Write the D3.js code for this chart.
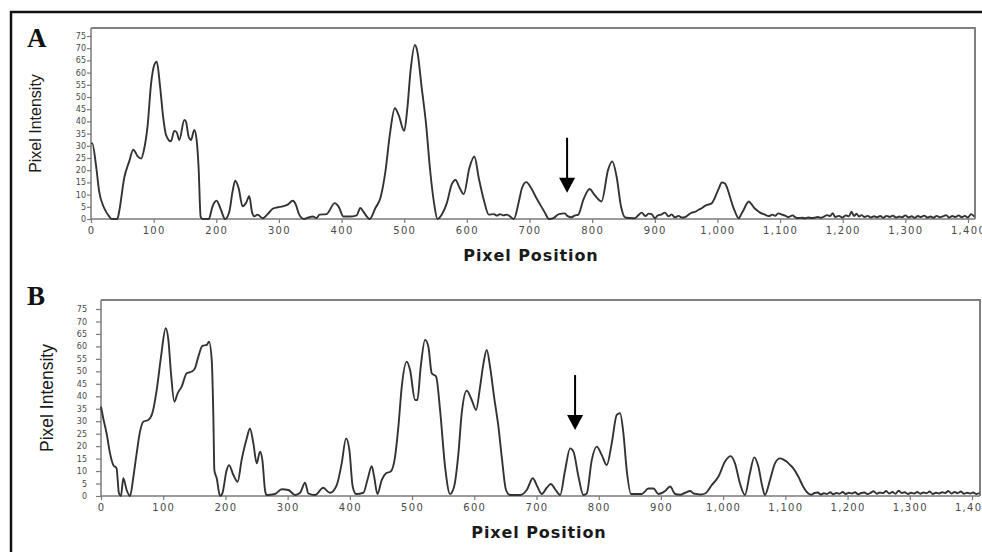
<!DOCTYPE html>
<html>
<head>
<meta charset="utf-8">
<script src="https://cdn.jsdelivr.net/npm/d3@7"></script>
<style>
  body { margin: 0; background: #fff; }
  svg { display: block; }
</style>
</head>
<body>
<svg id="chart" width="982" height="552"></svg>
<script>
// pixel position / intensity pairs
const profileA = [
  [0,31],[2,31],[8,22],[13,11.3],[21,4.5],[29,1.1],[33,0],[42,0],[45,3.1],[53,16.8],[61,23.6],
  [67.5,28.4],[74.5,25.7],[80,24.8],[85,28.9],[90.5,38.6],[95.7,55],[101,63.1],[105,64.5],[110,55],
  [115.4,41.3],[119.7,34.5],[127.6,31.8],[133,36.1],[136.7,35.6],[141,32.4],[148.9,40.6],[151.6,39.9],
  [155.8,33.8],[159.6,32.4],[164.9,36.5],[168.6,32.4],[171.8,20.9],[175,1],[178,0],[188,0],[194,5.2],
  [200.5,7.5],[207.4,3.8],[214,0],[220.7,2.9],[226,11.3],[230.3,15.7],[235.6,12.7],[242,5.2],[247.3,6.5],
  [252.7,9.3],[257,2.9],[260.6,1.1],[266,1.8],[274,0.3],[282,2],[290,4.2],[298,4.8],[306,5.2],[314,5.9],
  [322,7.5],[327,5.9],[332,2],[340,0],[347,0.6],[354,1],[360,0.4],[365,1.8],[376,2],[389,6.5],[395,5.2],
  [403,1],[413,1],[424,1.5],[430,4.5],[435,2.9],[445,0],[454,4.5],[462,8.6],[470,19.5],[477,34.5],
  [485,45.4],[491,42.7],[500,36.1],[505,45.4],[510,60.4],[517,71.3],[521,68.6],[528,53.6],[535,38.6],
  [541,20.9],[548,5.9],[553,0],[560,1.8],[568,6.5],[576,14.3],[582,16],[588.5,12.7],[595,10.2],[604,20.9],
  [612,25.6],[619,16.8],[627,7.9],[635,1.8],[643,2],[648,1.4],[653,2],[658,1.5],[664,1.8],[675,0],[683,7.2],[688,12.7],
  [695,15.1],[702.5,12.7],[711,8.6],[717,5.9],[724,2.9],[731,0],[739,0.5],[747,2],[756,2.3],[761,1.2],
  [767,0.7],[772,1.4],[778,1.8],[786,7.9],[796,12.3],[804,9.8],[815,7.2],[825.5,20.2],[832,23.6],
  [839,17.4],[846,5.2],[852.5,0.7],[860,0.4],[868,0.3],[874,1.6],[879,2.6],[885,1.2],[890,2.2],[895,2],
  [900,0.3],[905,1.5],[910,1.8],[916,2.6],[922,1.1],[927,1.9],[932,0.7],[938,1.3],[943,0.6],[948,0.7],
  [953,1.6],[959,2.6],[964,2.9],[970,3.8],[975,4.4],[980,5.4],[985,5.9],[991,6.5],[995,8.2],[999,10.6],
  [1003,13],[1007,15],[1012,14.5],[1016,12.4],[1020,9.1],[1024,5.8],[1028,3],[1034,0.3],[1038,2],
  [1042,3.8],[1046,5.9],[1050,7.2],[1054,6.2],[1058,4.8],[1063,3.6],[1068,2.6],[1075,1.9],[1082,1.2],
  [1088,1.8],[1092,1.3],[1097,2.3],[1102,1.9],[1108,1.4],[1113,0.7],[1120,1.5],[1125,0.6],[1130,0.4],
  [1135,0.5],[1140,0.3],[1145,0.6],[1150,0.4],[1155,0.5],[1160,0.8],[1165,0.5],[1170,1.0],[1175,1.6],
  [1180,1.2],[1184,2.4],[1188,0.8],[1194,1.3],[1200,0.6],[1205,1.5],[1210,1.1],[1214,3.0],[1218,1.2],
  [1222,2.2],[1226,1.0],[1230,1.6],[1235,0.8],[1240,1.3],[1245,0.6],[1250,1.1],[1255,0.7],[1260,1.2],
  [1265,0.5],[1270,1.3],[1275,0.8],[1280,1.4],[1285,0.6],[1290,1.0],[1295,0.7],[1300,1.5],[1305,0.6],
  [1310,1.1],[1315,0.5],[1320,1.2],[1325,0.8],[1330,1.4],[1335,0.6],[1340,1.0],[1345,0.5],[1350,1.3],
  [1355,0.7],[1360,1.1],[1365,1.6],[1370,0.6],[1375,1.2],[1380,0.8],[1385,1.5],[1390,0.7],[1395,1.3],
  [1400,0.6],[1405,2.0],[1410,1.0]
];

const profileB = [
  [0,35.8],[3.6,31.2],[9,25.1],[14.5,17.1],[19.8,12.4],[25,11.1],[28.9,1],[32,0],[35.9,7.1],[41.2,2.4],
  [46.6,0],[52,7.6],[57.3,17.1],[62.7,25.8],[68,29.8],[76,30.5],[82.5,33.2],[89.5,42.5],[96.5,55.9],
  [104,67.3],[108.3,62.6],[112.5,49.2],[117.9,37.8],[123.2,41.2],[129.7,43.9],[137.7,49.2],[145.8,49.9],
  [151,51.2],[156.5,55.9],[163,60.2],[169.9,60.6],[173.6,61.9],[178,54.5],[180.6,31.8],[182.2,10.4],
  [186,7.1],[191.3,0],[195,1],[202,10.4],[205.8,12.4],[212.8,8.4],[219.7,5.7],[226,14.4],[234.2,23.1],
  [239.5,27.1],[244.9,21.1],[250.3,13.1],[255.6,17.8],[259.4,14.4],[263.6,2.4],[266,0.4],[279.7,0.8],
  [290.5,2.7],[301.2,2.4],[311.9,0.4],[320,1.3],[328,5.3],[333.3,1],[344,0.4],[357.4,3.3],[365.4,1.6],
  [368.2,1.3],[378.9,4.4],[386.9,13.1],[393.9,23.1],[399.2,18.5],[404.6,3.7],[410,0.8],[421.8,1.3],
  [428.2,6.4],[435.2,12],[439,7.8],[444.3,0.8],[451.2,6.4],[458.2,9.1],[465.7,9.8],[472.7,15.8],
  [478,27.8],[483.4,43.8],[491.4,53.9],[496.8,50.5],[504.8,38.5],[508.5,38.5],[513.9,51.8],[520.9,62.6],
  [526.2,59.9],[531.6,49.2],[538.6,47.9],[545,34.5],[553,11.8],[561.1,0.8],[567.5,3.7],[574.5,17.1],
  [579.8,33.2],[587.9,42.2],[595.9,38.5],[602.9,34.5],[609.3,43.8],[614.7,53.1],[620,58.6],[625.4,51.8],
  [631.8,39.8],[638.8,27.8],[644.1,15.8],[651,2.4],[657.5,0.4],[673.6,0.4],[684.3,2.4],[694,7.1],
  [701.5,3.7],[708.5,0.8],[716.5,3.3],[723,4.8],[730,2.7],[738,0.4],[746,10.4],[754,19.1],[759.4,17.8],
  [767.4,7.8],[775.4,0.4],[780.7,1],[788.8,14.4],[796.8,19.8],[804.9,16.4],[812.9,12.4],[820.9,21.1],
  [829,32.5],[834.3,33.2],[839.7,25.1],[845,10.4],[852,0.8],[869.2,0.8],[879.9,3],[888,3],[896,0.8],
  [906.8,2],[914.8,3.8],[922.9,0.8],[931,0.5],[939,1.3],[947,2],[952,1.1],[957.7,0.8],[964,0.6],[971,1],
  [981.8,4.4],[992.5,7.8],[1003,13.8],[1012.3,16],[1019,13.1],[1027,5.1],[1035,0.4],[1043,9.1],
  [1050,15.5],[1056.6,11.8],[1063,3.7],[1067.2,0.4],[1075.3,6.4],[1083.3,13.1],[1091.4,15.1],[1097,14.6],
  [1102,13.8],[1107,12.6],[1112.8,11.1],[1120.8,7.8],[1128.8,3.7],[1136.9,1],[1142,0.5],[1147,1.2],
  [1152,1.4],[1157,0.6],[1162,1.1],[1167,0.8],[1172,1.5],[1177,0.7],[1182,1.2],[1187,0.9],[1192,1.6],
  [1197,0.8],[1202,1.3],[1207,1.0],[1212,1.5],[1217,0.7],[1222,1.2],[1227,1.4],[1232,0.8],[1237,1.3],
  [1242,1.9],[1247,0.9],[1252,1.4],[1257,1.1],[1262,2.0],[1267,1.0],[1272,1.6],[1277,0.9],[1282,2.1],
  [1287,1.2],[1292,1.5],[1297,0.8],[1302,1.3],[1307,1.0],[1312,1.6],[1317,0.9],[1322,1.4],[1327,1.1],
  [1332,1.8],[1337,0.8],[1342,1.3],[1347,1.0],[1352,1.5],[1357,1.2],[1362,2.0],[1367,1.0],[1372,1.6],
  [1377,1.1],[1382,1.8],[1387,0.9],[1392,1.3],[1397,1.0],[1402,1.4],[1407,0.8],[1412,1.2]
];

const xTicks = d3.range(0, 1401, 100);
const yTicks = d3.range(0, 76, 5);

// arrows mark the band of interest: position and intensity span
const arrowA = { x: 760, from: 33.3, to: 10.8 };
const arrowB = { x: 762, from: 48.5, to: 26.5 };

const svg = d3.select('#chart');

// outer frame, runs off the right and bottom edges
svg.append('rect')
  .attr('x', 11).attr('y', 12)
  .attr('width', 1000).attr('height', 600)
  .attr('fill', 'none')
  .attr('stroke', '#111')
  .attr('stroke-width', 2.5);

const panels = [
  {
    letter: 'A', data: profileA, arrow: arrowA,
    left: 91, right: 975, top: 28, x0: 91, x1400: 968, y0: 219, y75: 36,
    tickSize: 4, tickPad: 1, yFont: 16, yLabelX: 41, letterY: 47, titleY: 261, titleX: 531
  },
  {
    letter: 'B', data: profileB, arrow: arrowB,
    left: 101, right: 980, top: 300, x0: 101, x1400: 972, y0: 496, y75: 309,
    tickSize: 5, tickPad: 9, yFont: 17.5, yLabelX: 53, letterY: 305, titleY: 538, titleX: 539
  }
];

panels.forEach(p => {
  const x = d3.scaleLinear().domain([0, 1400]).range([p.x0, p.x1400]);
  const y = d3.scaleLinear().domain([0, 75]).range([p.y0, p.y75]);
  const g = svg.append('g');

  // top and right edges of the plot box
  g.append('path')
    .attr('d', `M${p.left},${p.top}H${p.right}V${p.y0}`)
    .attr('fill', 'none')
    .attr('stroke', '#808080')
    .attr('stroke-width', 2);

  const yAxis = g.append('g')
    .attr('transform', `translate(${p.left},0)`)
    .call(d3.axisLeft(y).tickValues(yTicks).tickSize(p.tickSize).tickPadding(p.tickPad));
  yAxis.select('.domain')
    .attr('d', `M0,${p.top}V${p.y0}`);

  const xAxis = g.append('g')
    .attr('transform', `translate(0,${p.y0})`)
    .call(d3.axisBottom(x).tickValues(xTicks).tickFormat(d3.format(',')).tickSize(4).tickPadding(4));
  xAxis.select('.domain')
    .attr('d', `M${p.left},0H${p.right}`);

  [yAxis, xAxis].forEach(a => {
    a.select('.domain').attr('stroke', '#7a7a7a').attr('stroke-width', 1.5);
    a.selectAll('.tick line').attr('stroke', '#7a7a7a').attr('stroke-width', 1.2);
    a.selectAll('.tick text')
      .attr('fill', '#4a4a4a')
      .style('font-family', 'DejaVu Sans, sans-serif');
  });
  yAxis.selectAll('.tick text').style('font-size', '8px');
  xAxis.selectAll('.tick text').style('font-size', '10px').style('letter-spacing', '1.3px');

  const line = d3.line()
    .x(d => x(d[0]))
    .y(d => y(d[1]))
    .curve(d3.curveMonotoneX);

  g.append('path')
    .datum(p.data)
    .attr('d', line)
    .attr('fill', 'none')
    .attr('stroke', '#333')
    .attr('stroke-width', 1.9)
    .attr('stroke-linejoin', 'round');

  // arrow
  const ax = x(p.arrow.x);
  const tipY = y(p.arrow.to);
  g.append('line')
    .attr('x1', ax).attr('x2', ax)
    .attr('y1', y(p.arrow.from)).attr('y2', tipY - 10)
    .attr('stroke', '#000')
    .attr('stroke-width', 2);
  g.append('path')
    .attr('d', `M${ax - 8},${tipY - 15}L${ax + 8},${tipY - 15}L${ax},${tipY}Z`)
    .attr('fill', '#000');

  g.append('text')
    .attr('x', 27).attr('y', p.letterY)
    .style('font-family', 'Liberation Serif, Times New Roman, serif')
    .style('font-weight', 'bold')
    .style('font-size', '27px')
    .attr('fill', '#111')
    .text(p.letter);

  g.append('text')
    .attr('transform', `translate(${p.yLabelX},${(p.top + p.y0) / 2}) rotate(-90)`)
    .attr('text-anchor', 'middle')
    .style('font-family', 'Liberation Sans, Arial, sans-serif')
    .style('font-size', p.yFont + 'px')
    .attr('fill', '#1a1a1a')
    .text('Pixel Intensity');

  g.append('text')
    .attr('x', p.titleX).attr('y', p.titleY)
    .attr('text-anchor', 'middle')
    .style('font-family', 'DejaVu Sans, sans-serif')
    .style('font-weight', 'bold')
    .style('font-size', '16px')
    .style('letter-spacing', '0.9px')
    .attr('fill', '#1a1a1a')
    .text('Pixel Position');
});
</script>
</body>
</html>
